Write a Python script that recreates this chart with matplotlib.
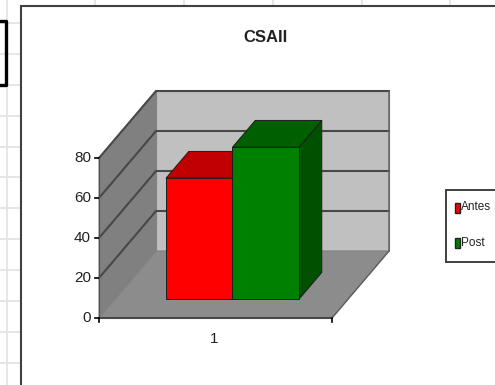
import matplotlib
matplotlib.use("Agg")
import matplotlib.pyplot as plt
from matplotlib.patches import Polygon, Rectangle

# values
series = ["Antes", "Post"]
values = [60.5, 76]
front_colors = ["#ff0000", "#008000"]
top_colors = ["#c00000", "#006000"]
side_colors = ["#b00000", "#005000"]
yticks = [0, 20, 40, 60, 80]
category = "1"

# sheet behind the chart
sheet_rows = [23, 54, 85, 116, 147, 177, 208, 239, 270, 301, 332, 363]
sheet_cols = [7, 95, 184, 273, 362, 450]

plt.rcParams["font.family"] = ["Liberation Sans", "DejaVu Sans"]

# pixel geometry of the 3d box
X0, X1 = 99, 332       # front floor edge
Y0 = 318               # front floor y at value 0
PX_PER_UNIT = 2.0
DX, DY = 57, -67       # depth offset of the back wall
BAR_X0 = 150           # left bar edge, before the depth shift
BAR_W = 66.5
BAR_D0, BAR_D1 = 0.28, 0.68   # bar depth as fraction of box depth


def proj(x, value, depth=0.0):
    """Pixel position of a point in the box: x along the front, value up, depth back."""
    return (x + DX*depth, Y0 - value*PX_PER_UNIT + DY*depth)


def bar_x(i):
    return BAR_X0 + i*BAR_W


fig = plt.figure(figsize=(4.95, 3.85), dpi=100)
ax = fig.add_axes([0, 0, 1, 1])
ax.set_xlim(0, 495)
ax.set_ylim(385, 0)
ax.axis("off")

for y in sheet_rows:
    ax.plot([0, 20], [y, y], color="#e2e2e2", lw=1.2, zorder=0)
for x in sheet_cols:
    ax.plot([x, x], [0, 5 if x > 20 else 385], color="#e2e2e2", lw=1.2, zorder=0)
ax.plot([0, 6, 6, 0], [21, 21, 85, 85], color="black", lw=2.4, zorder=1)

# chart area
ax.add_patch(Rectangle((21, 5.5), 500, 400, fc="white", ec="#404040", lw=1.5, zorder=1))

vtop = yticks[-1]
# walls and floor
ax.add_patch(Polygon([proj(X0, 0, 1), proj(X1, 0, 1), proj(X1, vtop, 1), proj(X0, vtop, 1)],
                     fc="#c0c0c0", ec="#808080", lw=0.8, zorder=2))
ax.add_patch(Polygon([proj(X0, 0, 0), proj(X0, 0, 1), proj(X0, vtop, 1), proj(X0, vtop, 0)],
                     fc="#808080", ec="#808080", lw=0.8, zorder=2))
ax.add_patch(Polygon([proj(X0, 0, 0), proj(X1, 0, 0), proj(X1, 0, 1), proj(X0, 0, 1)],
                     fc="#8c8c8c", ec="#808080", lw=0.8, zorder=2))

# gridlines run along both walls
for v in yticks:
    pts = [proj(X0, v, 0), proj(X0, v, 1), proj(X1, v, 1)]
    if v == 0:
        pts = pts[:1] + [proj(X1, 0, 0)]
    ax.plot(*zip(*pts), color="#484848", lw=1.5, zorder=3, solid_joinstyle="miter")
    x, y = proj(X0, v, 0)
    ax.plot([x-4, x], [y, y], color="black", lw=1.2, zorder=3)
    ax.text(x-8, y, str(v), ha="right", va="center", fontsize=11, color="#222222", zorder=6)
ax.plot(*zip(proj(X0, 0, 0), proj(X0, vtop, 0)), color="#505050", lw=0.8, zorder=3)
ax.plot(*zip(proj(X1, 0, 0), proj(X1, 0, 1), proj(X1, vtop, 1)), color="#606060", lw=1, zorder=3)
ax.plot([X0, X0], [Y0, Y0+4], color="black", lw=1.2, zorder=3)
ax.plot([X1, X1], [Y0, Y0+4], color="black", lw=1.2, zorder=3)
ax.text((X0+X1)/2 - 1.5, 339, category, ha="center", va="center", fontsize=11,
        color="#222222", zorder=6)

# bars, back to front left to right
for i, v in enumerate(values):
    xa, xb = bar_x(i), bar_x(i+1)
    z = 4 + i
    edge = dict(ec="#1c1c1c", lw=0.7, joinstyle="miter", zorder=z)
    ax.add_patch(Polygon([proj(xb, 0, BAR_D0), proj(xb, 0, BAR_D1), proj(xb, v, BAR_D1), proj(xb, v, BAR_D0)],
                         fc=side_colors[i], **edge))
    ax.add_patch(Polygon([proj(xa, v, BAR_D0), proj(xb, v, BAR_D0), proj(xb, v, BAR_D1), proj(xa, v, BAR_D1)],
                         fc=top_colors[i], **edge))
    ax.add_patch(Polygon([proj(xa, 0, BAR_D0), proj(xb, 0, BAR_D0), proj(xb, v, BAR_D0), proj(xa, v, BAR_D0)],
                         fc=front_colors[i], **edge))

ax.text(266, 38, "CSAII", ha="center", va="center", fontsize=12, fontweight="bold",
        color="#222222", zorder=6)

# legend box drawn by hand, it runs with the pixel geometry of the rest
ax.add_patch(Rectangle((446, 190), 60, 72, fc="white", ec="#404040", lw=1.4, zorder=6))
for i, name in enumerate(series):
    y = 208 + i*35
    ax.add_patch(Rectangle((454.5, y-5), 5.5, 10, fc=front_colors[i], ec="#222222", lw=1, zorder=7))
    ax.text(461, y-0.5, name, ha="left", va="center", fontsize=8.5, color="#222222", zorder=7)

fig.savefig("out.png", dpi=100)
